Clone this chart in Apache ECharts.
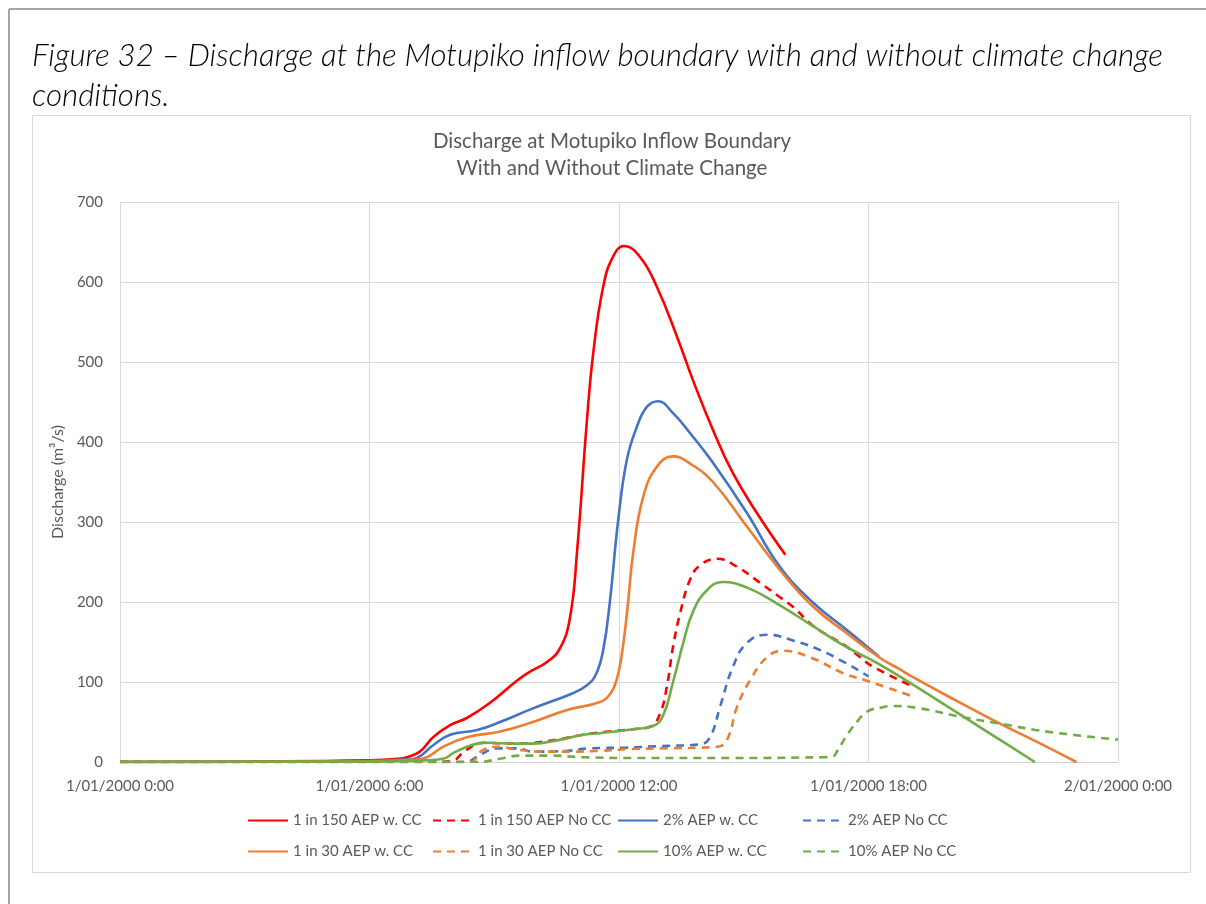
<!DOCTYPE html>
<html>
<head>
<meta charset="utf-8">
<script src="https://cdn.jsdelivr.net/npm/echarts@6/dist/echarts.min.js"></script>
<style>
  html, body { margin: 0; padding: 0; background: #fff; }
  #chart { width: 1206px; height: 904px; }
</style>
</head>
<body>
<div id="chart"></div>
<script>
// Hydrograph series: [hour since 1/01/2000 0:00, discharge m³/s]
const aep150CC = [[0,0],[3,0.5],[6,2],[6.7,4],[6.9,6],[7.21,13],[7.53,31],[7.94,46],[8.34,55],[8.9,74],[9.55,102],[9.86,113],[10.27,125],[10.58,142],[10.82,180],[10.99,262],[11.23,428],[11.38,511],[11.62,594],[11.86,632],[12.12,645],[12.51,631],[12.91,594],[13.4,531],[13.78,477],[14.26,415],[14.74,361],[15.32,311],[16.0,259]];
const aep150NoCC = [[0,0],[7.6,0],[8.01,2],[8.3,14],[8.73,24],[9.45,23],[9.93,24],[10.51,28],[11.13,34],[11.54,37],[12.34,41],[12.75,44],[12.99,61],[13.15,94],[13.3,144],[13.47,186],[13.71,228],[13.95,246],[14.36,254],[14.84,244],[15.39,224],[15.87,206],[16.18,194],[16.67,170],[17.0,159],[17.48,144],[17.8,131],[18.11,119],[19.0,96]];
const aep2CC = [[0,0],[3,0.3],[6,1.5],[6.9,3],[7.14,5],[7.53,21],[7.94,34],[8.59,40],[9.14,50],[9.93,67],[10.89,86],[11.23,96],[11.45,110],[11.62,140],[11.78,200],[11.98,302],[12.19,378],[12.43,419],[12.67,444],[12.94,451],[13.3,436],[13.71,411],[14.26,374],[15.08,311],[15.87,244],[16.67,199],[17.48,165],[18.25,132]];
const aep2NoCC = [[0,0],[8.3,0],[8.66,9],[9.07,17],[9.55,17],[9.93,13],[10.75,14],[11.3,17],[12.19,18],[13.0,20],[13.95,22],[14.19,31],[14.43,69],[14.74,119],[15.08,149],[15.56,159],[16.18,152],[17.0,136],[18.0,107]];
const aep30CC = [[0,0],[3,0.3],[6,1],[7.1,3],[7.38,6],[7.77,19],[8.34,31],[9.14,38],[9.93,50],[10.75,65],[11.54,75],[11.8,86],[11.95,104],[12.07,135],[12.2,190],[12.34,261],[12.58,331],[12.91,369],[13.3,382],[13.71,373],[14.26,350],[15.08,294],[15.87,240],[16.67,194],[17.48,161],[18.28,130],[18.75,116],[19.07,106],[20.1,77],[21.16,48],[22.1,24],[23.0,0]];
const aep30NoCC = [[0,0],[8.4,0],[8.73,15],[9.14,19],[9.5,16],[10.1,13],[10.89,13],[11.54,14],[12.19,16],[13.0,17],[14.36,19],[14.6,28],[14.84,69],[15.15,102],[15.56,131],[15.94,139],[16.59,131],[17.39,111],[18.0,101],[19.0,83]];
const aep10CC = [[0,0],[6,0.5],[7.3,2],[7.77,4],[8.01,11],[8.34,19],[8.6,23],[8.9,24],[9.45,23],[9.93,23],[10.51,27],[11.13,34],[11.54,36],[12.34,41],[12.82,45],[13.06,58],[13.3,100],[13.54,148],[13.78,188],[14.12,215],[14.5,225],[15.08,218],[15.8,198],[16.63,171],[17.39,146],[18.2,124],[19.0,99],[20.0,66],[21.0,33],[22.0,0]];
const aep10NoCC = [[0,0],[8.6,0],[9.14,4],[9.62,8],[10.34,8],[11.13,6],[12.34,5],[14.74,5],[16.91,6],[17.15,7],[17.25,14],[17.5,35],[17.75,52],[17.96,63],[18.3,68],[18.6,70],[19.24,67],[20.27,56],[21.16,48],[22.29,38],[24.0,28]];

const seriesNames = ['1 in 150 AEP w. CC', '1 in 150 AEP No CC', '2% AEP w. CC', '2% AEP No CC',
                     '1 in 30 AEP w. CC', '1 in 30 AEP No CC', '10% AEP w. CC', '10% AEP No CC'];
const seriesData = [aep150CC, aep150NoCC, aep2CC, aep2NoCC, aep30CC, aep30NoCC, aep10CC, aep10NoCC];
const seriesColors = ['#FF0000', '#FF0000', '#4472C4', '#4472C4', '#ED7D31', '#ED7D31', '#70AD47', '#70AD47'];
const seriesDashed = [false, true, false, true, false, true, false, true];

const xTicks = [0, 6, 12, 18, 24];
const xTickLabels = ['1/01/2000 0:00', '1/01/2000 6:00', '1/01/2000 12:00', '1/01/2000 18:00', '2/01/2000 0:00'];

const chartTitle = 'Discharge at Motupiko Inflow Boundary\nWith and Without Climate Change';
const caption = 'Figure 32 \u2013 Discharge at the Motupiko inflow boundary with and without climate change\nconditions.';
const yAxisName = 'Discharge (m\u00b3/s)';

const FONT = 'Lato, "Open Sans", sans-serif';
const TEXT = '#595959';

const chart = echarts.init(document.getElementById('chart'), null, { renderer: 'canvas' });

const series = seriesNames.map((name, i) => ({
  name,
  type: 'line',
  data: seriesData[i],
  smooth: 0.45,
  symbol: 'none',
  clip: true,
  lineStyle: {
    color: seriesColors[i],
    width: 2.6,
    type: seriesDashed[i] ? [8, 6] : 'solid',
    cap: 'butt'
  },
  itemStyle: { color: seriesColors[i] },
  emphasis: { disabled: true }
}));

// Legend laid out as four columns of two rows; line-only icons
const legendCols = [247, 432, 617, 802];
const legends = legendCols.map((left, c) => ({
  orient: 'vertical',
  left,
  top: 813,
  itemWidth: 40,
  itemHeight: 14,
  itemGap: 16,
  padding: 0,
  selectedMode: false,
  data: [seriesNames[c], seriesNames[c + 4]],
  itemStyle: { color: 'rgba(0,0,0,0)', borderColor: 'rgba(0,0,0,0)', borderWidth: 0 },
  textStyle: { fontFamily: FONT, fontSize: 15, color: TEXT, padding: [0, 0, 0, 0] }
}));

chart.setOption({
  animation: false,
  backgroundColor: '#ffffff',
  title: {
    text: chartTitle,
    left: 607,
    top: 123,
    textAlign: 'center',
    textStyle: { fontFamily: FONT, fontSize: 20.5, fontWeight: 'normal', color: TEXT, lineHeight: 27 }
  },
  legend: legends,
  grid: { left: 120, right: 88, top: 202, bottom: 142, containLabel: false },
  xAxis: {
    type: 'value',
    min: 0,
    max: 24,
    interval: 6,
    axisLine: { show: true, lineStyle: { color: '#d0d0d0', width: 1 } },
    axisTick: { show: false },
    splitLine: { show: true, lineStyle: { color: '#d9d9d9', width: 1 } },
    axisLabel: {
      fontFamily: FONT, fontSize: 15, color: TEXT, margin: 17,
      formatter: v => xTickLabels[xTicks.indexOf(v)]
    }
  },
  yAxis: {
    type: 'value',
    min: 0,
    max: 700,
    interval: 100,
    name: yAxisName,
    nameLocation: 'middle',
    nameRotate: 90,
    nameGap: 50,
    nameTextStyle: { fontFamily: FONT, fontSize: 16, color: TEXT },
    axisLine: { show: false },
    axisTick: { show: false },
    splitLine: { show: true, lineStyle: { color: '#d9d9d9', width: 1 } },
    axisLabel: { fontFamily: FONT, fontSize: 15, color: TEXT, margin: 17 }
  },
  graphic: [
    // page frame
    { type: 'line', shape: { x1: 9, y1: 9, x2: 1206, y2: 9 }, style: { stroke: '#a6a6a6', lineWidth: 2 }, silent: true },
    { type: 'line', shape: { x1: 9, y1: 9, x2: 9, y2: 904 }, style: { stroke: '#a6a6a6', lineWidth: 2 }, silent: true },
    // chart box
    { type: 'rect', shape: { x: 32.5, y: 115.5, width: 1158, height: 757 }, style: { fill: 'none', stroke: '#d9d9d9', lineWidth: 1 }, silent: true, z: -1 },
    // figure caption
    {
      type: 'text', left: 32, top: 36, silent: true,
      style: { text: caption, font: 'italic 300 31.3px ' + FONT, fill: '#000000', lineHeight: 40 }
    }
  ],
  series
});
</script>
</body>
</html>
